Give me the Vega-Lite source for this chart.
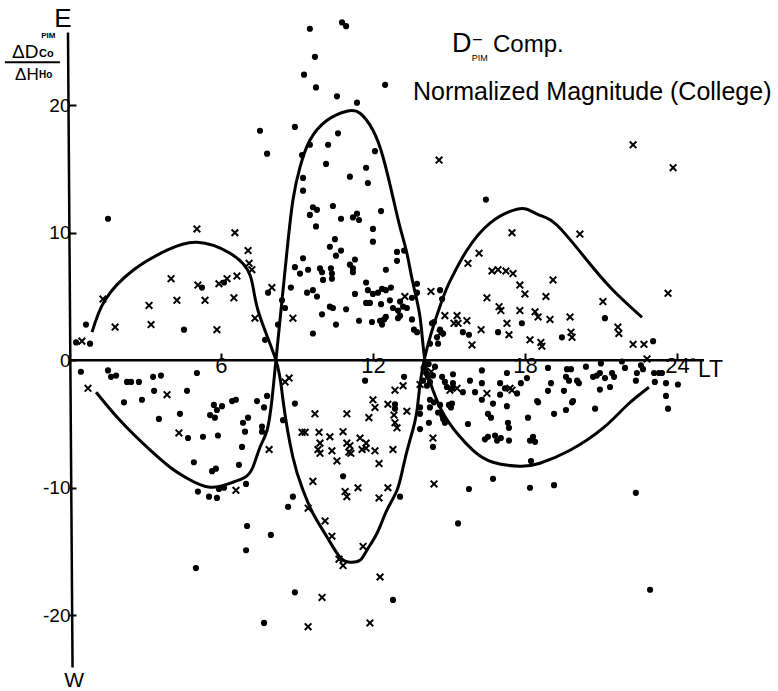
{
  "$schema": "https://vega.github.io/schema/vega-lite/v6.json",
  "width": 635,
  "height": 663,
  "autosize": {"type": "none"},
  "padding": {"left": 69, "top": 16, "right": 74, "bottom": 12},
  "background": "white",
  "data": {"values": [{}]},
  "config": {
    "view": {"stroke": null},
    "axis": {"grid": false, "domain": false, "tickColor": "black", "labelColor": "black", "labelFont": "Liberation Sans", "tickWidth": 2},
    "text": {"font": "Liberation Sans", "color": "black"}
  },
  "layer": [
    {
      "data": {"values": [
        {"h":1.54,"v":11.1},{"h":0.67,"v":2.8},{"h":0.28,"v":1.4},{"h":0.83,"v":1.3},{"h":4.54,"v":2.4},{"h":5.25,"v":5.7},{"h":6.12,"v":6.1},{"h":7.74,"v":1.6},{"h":7.54,"v":18.0},{"h":7.82,"v":16.2},
        {"h":0.47,"v":-0.9},{"h":1.54,"v":-0.8},{"h":1.66,"v":-1.3},{"h":1.86,"v":-1.2},{"h":2.29,"v":-1.7},{"h":2.45,"v":-1.7},{"h":2.76,"v":-1.7},{"h":3.32,"v":-1.3},{"h":3.63,"v":-1.2},{"h":5.05,"v":-1.0},{"h":3.36,"v":-2.4},{"h":4.66,"v":-2.4},{"h":2.17,"v":-3.3},{"h":2.88,"v":-3.1},{"h":3.55,"v":-4.6},{"h":4.38,"v":-4.2},{"h":5.72,"v":-3.5},{"h":5.84,"v":-3.9},{"h":6.04,"v":-3.6},{"h":5.57,"v":-4.3},{"h":5.76,"v":-4.5},{"h":6.44,"v":-3.2},{"h":6.59,"v":-3.1},{"h":7.42,"v":-3.2},{"h":7.70,"v":-3.7},{"h":6.87,"v":-4.9},{"h":7.07,"v":-4.5},{"h":6.95,"v":-5.6},{"h":6.83,"v":-6.8},{"h":7.62,"v":-5.2},{"h":7.62,"v":-5.6},{"h":4.70,"v":-6.1},{"h":5.29,"v":-6.0},{"h":5.88,"v":-5.9},{"h":4.93,"v":-8.0},{"h":5.65,"v":-8.7},{"h":5.80,"v":-8.5},{"h":6.71,"v":-8.2},{"h":5.09,"v":-10.3},{"h":5.53,"v":-10.7},{"h":5.84,"v":-10.8},{"h":5.92,"v":-10.1},{"h":6.12,"v":-10.0},{"h":6.99,"v":-9.7},{"h":7.03,"v":-13.0},{"h":6.99,"v":-14.9},{"h":5.01,"v":-16.3},{"h":7.97,"v":-13.7},{"h":7.70,"v":-20.6},{"h":8.45,"v":-4.7},{"h":8.92,"v":-3.4},{"h":8.65,"v":-11.5},{"h":8.84,"v":-10.7},{"h":8.92,"v":-18.2},{"h":7.82,"v":-2.8},
        {"h":9.51,"v":26.0},{"h":10.78,"v":26.5},{"h":10.94,"v":26.2},{"h":9.71,"v":23.8},{"h":9.28,"v":22.4},{"h":9.75,"v":21.4},{"h":10.58,"v":20.7},{"h":11.37,"v":20.2},{"h":12.48,"v":21.6},{"h":8.92,"v":18.3},{"h":9.20,"v":16.1},{"h":9.51,"v":16.9},{"h":10.23,"v":16.9},{"h":10.62,"v":17.8},{"h":10.15,"v":15.4},{"h":12.08,"v":16.4},{"h":11.73,"v":15.1},{"h":11.09,"v":14.4},{"h":11.80,"v":13.9},{"h":9.24,"v":14.3},{"h":9.24,"v":13.3},{"h":9.63,"v":12.0},{"h":9.79,"v":11.8},{"h":10.42,"v":12.1},{"h":9.51,"v":11.4},{"h":10.74,"v":11.1},{"h":11.21,"v":11.2},{"h":11.37,"v":11.5},{"h":11.45,"v":11.0},{"h":12.32,"v":11.7},{"h":9.75,"v":10.5},{"h":12.0,"v":10.3},{"h":12.0,"v":9.3},{"h":10.50,"v":9.5},{"h":10.30,"v":8.9},{"h":10.74,"v":8.6},{"h":10.54,"v":8.2},{"h":12.95,"v":8.5},{"h":13.23,"v":8.6},{"h":12.95,"v":7.8},{"h":9.24,"v":8.0},{"h":11.29,"v":7.9},{"h":11.09,"v":7.5},{"h":11.21,"v":7.2},{"h":11.21,"v":6.9},{"h":8.92,"v":7.3},{"h":9.12,"v":6.8},{"h":9.44,"v":7.1},{"h":9.91,"v":7.2},{"h":9.99,"v":6.9},{"h":10.34,"v":7.2},{"h":10.38,"v":6.8},{"h":10.38,"v":6.4},{"h":12.51,"v":7.1},{"h":10.03,"v":6.3},{"h":8.76,"v":5.7},{"h":9.40,"v":5.3},{"h":9.63,"v":5.5},{"h":9.79,"v":5.0},{"h":7.86,"v":5.3},{"h":11.73,"v":6.1},{"h":11.80,"v":5.5},{"h":12.0,"v":5.2},{"h":12.20,"v":5.3},{"h":12.36,"v":5.6},{"h":12.51,"v":5.5},{"h":12.71,"v":5.7},{"h":11.29,"v":5.2},{"h":11.73,"v":4.5},{"h":11.88,"v":4.5},{"h":12.32,"v":4.4},{"h":12.67,"v":4.7},{"h":12.79,"v":4.1},{"h":13.74,"v":6.0},{"h":13.74,"v":5.3},{"h":13.07,"v":4.6},{"h":13.19,"v":4.2},{"h":13.34,"v":4.1},{"h":12.99,"v":3.9},{"h":13.54,"v":4.9},{"h":13.07,"v":3.5},{"h":12.99,"v":3.3},{"h":8.53,"v":4.1},{"h":10.30,"v":4.2},{"h":10.42,"v":4.1},{"h":10.94,"v":4.0},{"h":9.99,"v":3.6},{"h":10.54,"v":2.8},{"h":11.45,"v":3.1},{"h":11.96,"v":3.0},{"h":12.28,"v":3.1},{"h":12.36,"v":2.8},{"h":12.44,"v":3.2},{"h":12.51,"v":3.4},{"h":13.54,"v":3.2},{"h":9.63,"v":2.1},{"h":8.25,"v":2.8},{"h":8.41,"v":4.7},{"h":13.62,"v":2.4},{"h":13.74,"v":2.2},{"h":14.33,"v":2.9},{"h":14.41,"v":3.0},{"h":14.65,"v":5.5},{"h":14.73,"v":4.8},{"h":14.65,"v":2.4},{"h":14.77,"v":2.1},{"h":14.53,"v":1.8},{"h":14.57,"v":1.3},{"h":14.25,"v":1.3},{"h":15.55,"v":2.2},{"h":15.79,"v":2.0},{"h":16.46,"v":12.6},{"h":16.94,"v":2.2},{"h":19.46,"v":1.8},{"h":17.88,"v":2.9},{"h":21.16,"v":3.3},{"h":23.06,"v":1.5},
        {"h":11.69,"v":-1.6},{"h":13.23,"v":-1.3},{"h":13.98,"v":-1.6},{"h":14.17,"v":-1.3},{"h":14.37,"v":-1.2},{"h":14.25,"v":-1.7},{"h":14.13,"v":-2.0},{"h":14.73,"v":-1.3},{"h":14.84,"v":-1.7},{"h":14.92,"v":-2.1},{"h":15.12,"v":-2.2},{"h":15.16,"v":-1.8},{"h":15.55,"v":-2.5},{"h":15.83,"v":-1.6},{"h":16.03,"v":-2.5},{"h":16.30,"v":-0.8},{"h":16.30,"v":-1.8},{"h":17.02,"v":-1.8},{"h":17.29,"v":-1.0},{"h":17.21,"v":-2.2},{"h":17.69,"v":-2.6},{"h":14.45,"v":-0.5},{"h":15.16,"v":-1.1},{"h":17.02,"v":-2.7},{"h":16.30,"v":-3.1},{"h":16.74,"v":-3.4},{"h":17.29,"v":-3.6},{"h":16.54,"v":-4.2},{"h":16.66,"v":-4.5},{"h":17.84,"v":-1.8},{"h":18.08,"v":-1.4},{"h":18.48,"v":-3.2},{"h":18.12,"v":-4.5},{"h":17.33,"v":-4.9},{"h":17.37,"v":-5.3},{"h":18.91,"v":-0.6},{"h":19.03,"v":-1.8},{"h":18.91,"v":-2.4},{"h":19.66,"v":-0.7},{"h":19.62,"v":-1.3},{"h":19.74,"v":-1.6},{"h":19.54,"v":-2.4},{"h":19.15,"v":-4.2},{"h":19.62,"v":-3.9},{"h":14.25,"v":-3.1},{"h":14.41,"v":-3.3},{"h":14.25,"v":-3.7},{"h":14.65,"v":-3.5},{"h":15.0,"v":-3.5},{"h":15.12,"v":-3.4},{"h":15.08,"v":-3.7},{"h":14.57,"v":-4.1},{"h":14.73,"v":-4.3},{"h":14.77,"v":-4.6},{"h":14.84,"v":-4.9},{"h":14.21,"v":-4.9},{"h":13.86,"v":-5.4},{"h":14.37,"v":-6.8},{"h":15.75,"v":-5.0},{"h":16.42,"v":-6.2},{"h":16.54,"v":-6.0},{"h":16.82,"v":-5.9},{"h":16.90,"v":-6.3},{"h":17.05,"v":-6.1},{"h":17.37,"v":-6.3},{"h":18.20,"v":-6.3},{"h":18.32,"v":-6.0},{"h":18.40,"v":-6.4},{"h":18.24,"v":-7.9},{"h":12.87,"v":-3.45},{"h":12.87,"v":-3.8},{"h":13.86,"v":-3.7},{"h":13.86,"v":-4.2},{"h":16.74,"v":-9.3},{"h":15.79,"v":-10.1},{"h":15.36,"v":-12.8},{"h":10.82,"v":-9.1},{"h":13.07,"v":-10.7},{"h":12.79,"v":-18.8},{"h":18.52,"v":-3.3},{"h":19.86,"v":-3.3},{"h":20.77,"v":-3.8},{"h":23.65,"v":-3.8},{"h":18.20,"v":-10.0},{"h":19.15,"v":-9.8},{"h":22.38,"v":-10.4},{"h":22.94,"v":-18.0},{"h":14.1,"v":-1.0},{"h":14.0,"v":-0.6},{"h":14.2,"v":-0.3},
        {"h":19.82,"v":-0.7},{"h":20.41,"v":-0.5},{"h":21.0,"v":-0.25},{"h":21.83,"v":-0.1},{"h":21.95,"v":-0.6},{"h":22.58,"v":-0.4},{"h":22.66,"v":-0.7},{"h":22.42,"v":-1.0},{"h":20.06,"v":-1.6},{"h":20.13,"v":-1.8},{"h":20.69,"v":-1.3},{"h":20.84,"v":-1.2},{"h":20.96,"v":-1.0},{"h":21.16,"v":-1.4},{"h":21.44,"v":-1.0},{"h":21.52,"v":-1.3},{"h":22.38,"v":-1.6},{"h":23.10,"v":-1.0},{"h":23.29,"v":-1.0},{"h":23.41,"v":-1.0},{"h":23.13,"v":-1.7},{"h":23.57,"v":-1.8},{"h":24.04,"v":-1.9},{"h":20.96,"v":-2.3},{"h":21.36,"v":-2.1},{"h":19.90,"v":-3.2},{"h":23.57,"v":-2.8}
      ]},
      "mark": {"type": "point", "shape": "circle", "filled": true, "color": "black", "size": 38, "opacity": 1},
      "encoding": {
        "x": {"field": "h", "type": "quantitative", "scale": {"domain": [0, 25.07], "nice": false, "zero": false},
              "axis": {"title": null, "values": [6, 12, 18, 24], "offset": -319, "tickSize": -7, "labelFontSize": 22, "labelPadding": 2, "labelFlush": false}},
        "y": {"field": "v", "type": "quantitative", "scale": {"domain": [-25, 27], "nice": false, "zero": false},
              "axis": {"title": null, "values": [-20, -10, 0, 10, 20], "tickSize": -7, "labelFontSize": 19, "labelPadding": 6, "labelFlush": false, "labelExpr": "replace(datum.label, '−', '-')"}}
      }
    },
    {
      "data": {"values": [
        {"h":0.51,"v":1.5},{"h":1.34,"v":4.8},{"h":1.82,"v":2.6},{"h":3.16,"v":4.3},{"h":3.24,"v":2.8},{"h":4.03,"v":6.4},{"h":4.26,"v":4.7},{"h":5.05,"v":10.3},{"h":5.09,"v":5.9},{"h":5.37,"v":4.7},{"h":5.84,"v":2.4},{"h":5.92,"v":6.0},{"h":6.24,"v":6.4},{"h":6.55,"v":10.0},{"h":6.51,"v":4.9},{"h":6.63,"v":6.6},{"h":7.07,"v":8.6},{"h":7.11,"v":7.6},{"h":7.22,"v":7.1},{"h":7.34,"v":3.3},{"h":0.75,"v":-2.2},{"h":3.87,"v":-2.7},{"h":4.34,"v":-5.7},{"h":7.90,"v":-7.0},{"h":6.59,"v":-10.2},{"h":8.01,"v":5.7},{"h":8.84,"v":3.3},{"h":8.69,"v":-1.4},{"h":8.53,"v":-1.7},
        {"h":14.61,"v":15.7},{"h":13.26,"v":5.0},{"h":14.29,"v":5.4},{"h":14.84,"v":3.5},{"h":15.32,"v":3.5},{"h":15.20,"v":2.9},{"h":15.36,"v":2.9},{"h":15.71,"v":3.1},{"h":15.91,"v":1.2},{"h":16.19,"v":8.4},{"h":15.75,"v":7.6},{"h":16.70,"v":7.0},{"h":16.94,"v":7.1},{"h":17.25,"v":7.0},{"h":17.53,"v":6.8},{"h":16.50,"v":4.9},{"h":16.98,"v":4.2},{"h":17.05,"v":3.9},{"h":17.29,"v":2.9},{"h":17.37,"v":2.0},{"h":16.27,"v":2.4},{"h":17.49,"v":10.0},{"h":14.65,"v":2.1},{"h":18.20,"v":1.6},{"h":18.63,"v":1.4},{"h":18.67,"v":1.1},{"h":12.87,"v":-2.35},{"h":13.19,"v":-2.0},{"h":13.86,"v":-1.9},{"h":15.04,"v":-2.35},{"h":16.50,"v":-2.6},{"h":17.49,"v":-2.35},{"h":15.32,"v":-2.2},{"h":17.41,"v":-2.2},{"h":14.3,"v":-0.9},
        {"h":9.71,"v":-4.2},{"h":10.97,"v":-4.2},{"h":11.84,"v":-4.5},{"h":12.0,"v":-3.1},{"h":12.08,"v":-3.7},{"h":12.59,"v":-3.45},{"h":12.83,"v":-4.3},{"h":12.87,"v":-4.9},{"h":12.95,"v":-5.3},{"h":13.34,"v":-4.0},{"h":9.20,"v":-5.65},{"h":9.32,"v":-5.65},{"h":9.87,"v":-5.65},{"h":10.30,"v":-6.0},{"h":10.82,"v":-5.6},{"h":9.91,"v":-6.5},{"h":9.83,"v":-7.0},{"h":9.91,"v":-7.3},{"h":10.38,"v":-7.1},{"h":10.97,"v":-6.5},{"h":11.09,"v":-6.7},{"h":11.05,"v":-7.2},{"h":11.13,"v":-7.3},{"h":11.49,"v":-6.1},{"h":11.57,"v":-7.0},{"h":11.73,"v":-6.5},{"h":11.73,"v":-6.9},{"h":12.08,"v":-7.1},{"h":12.79,"v":-7.0},{"h":10.58,"v":-7.9},{"h":12.24,"v":-8.1},{"h":9.63,"v":-9.5},{"h":10.90,"v":-10.3},{"h":10.97,"v":-10.7},{"h":11.41,"v":-10.0},{"h":12.24,"v":-10.8},{"h":12.59,"v":-10.0},{"h":9.44,"v":-11.6},{"h":10.11,"v":-12.6},{"h":10.38,"v":-13.8},{"h":11.61,"v":-14.6},{"h":10.66,"v":-15.6},{"h":10.82,"v":-16.1},{"h":12.28,"v":-17.0},{"h":9.99,"v":-18.6},{"h":11.88,"v":-20.6},{"h":9.44,"v":-20.9},{"h":14.37,"v":-6.1},{"h":14.41,"v":-9.7},
        {"h":22.27,"v":16.9},{"h":23.85,"v":15.1},{"h":20.17,"v":9.9},{"h":19.11,"v":6.3},{"h":18.0,"v":5.2},{"h":18.83,"v":5.0},{"h":21.08,"v":4.6},{"h":17.80,"v":5.9},{"h":18.40,"v":3.8},{"h":18.52,"v":3.4},{"h":18.99,"v":3.2},{"h":19.78,"v":3.4},{"h":19.82,"v":2.2},{"h":19.86,"v":1.8},{"h":21.67,"v":2.6},{"h":21.71,"v":2.1},{"h":22.27,"v":1.25},{"h":22.70,"v":1.25},{"h":23.65,"v":5.25},{"h":17.80,"v":3.9},{"h":22.82,"v":0.1}
      ]},
      "mark": {"type": "point", "shape": "M-1,-1L1,1M-1,1L1,-1", "filled": false, "stroke": "black", "strokeWidth": 2, "size": 44, "opacity": 1},
      "encoding": {
        "x": {"field": "h", "type": "quantitative", "axis": {"title": null}},
        "y": {"field": "v", "type": "quantitative", "axis": {"title": null}}
      }
    },
    {
      "data": {"values": [
        {"c":"A","h":0.91,"v":2.2},{"c":"A","h":1.42,"v":4.71},{"c":"A","h":2.53,"v":7.06},{"c":"A","h":3.87,"v":8.63},{"c":"A","h":5.05,"v":9.25},{"c":"A","h":6.36,"v":8.39},{"c":"A","h":7.15,"v":6.67},{"c":"A","h":7.46,"v":3.92},{"c":"A","h":8.17,"v":0},{"c":"A","h":8.45,"v":-3.14},{"c":"A","h":8.84,"v":-7.61},{"c":"A","h":9.24,"v":-10.2},{"c":"A","h":9.63,"v":-12.0},{"c":"A","h":10.19,"v":-13.88},{"c":"A","h":10.70,"v":-15.45},{"c":"A","h":11.09,"v":-15.84},{"c":"A","h":11.49,"v":-15.69},{"c":"A","h":11.76,"v":-14.9},{"c":"A","h":12.16,"v":-13.57},{"c":"A","h":12.55,"v":-11.76},{"c":"A","h":12.95,"v":-10.2},{"c":"A","h":13.19,"v":-8.39},{"c":"A","h":13.46,"v":-6.27},{"c":"A","h":13.74,"v":-3.92},{"c":"A","h":14.02,"v":0},{"c":"A","h":14.73,"v":4.71},{"c":"A","h":15.12,"v":6.51},{"c":"A","h":15.71,"v":8.63},{"c":"A","h":16.62,"v":10.75},{"c":"A","h":17.53,"v":11.76},{"c":"A","h":18.08,"v":11.84},{"c":"A","h":18.59,"v":11.37},{"c":"A","h":19.27,"v":10.59},{"c":"A","h":20.45,"v":7.84},{"c":"A","h":21.48,"v":5.49},{"c":"A","h":22.62,"v":3.37},
        {"c":"B","h":1.07,"v":-2.51},{"c":"B","h":2.01,"v":-4.71},{"c":"B","h":3.08,"v":-6.82},{"c":"B","h":3.99,"v":-8.39},{"c":"B","h":4.66,"v":-9.25},{"c":"B","h":5.57,"v":-9.96},{"c":"B","h":6.47,"v":-9.57},{"c":"B","h":6.95,"v":-9.18},{"c":"B","h":7.26,"v":-8.39},{"c":"B","h":7.54,"v":-6.82},{"c":"B","h":7.82,"v":-5.49},{"c":"B","h":8.01,"v":-3.14},{"c":"B","h":8.17,"v":0},{"c":"B","h":8.41,"v":4.71},{"c":"B","h":8.61,"v":8.63},{"c":"B","h":8.84,"v":12.55},{"c":"B","h":9.12,"v":15.14},{"c":"B","h":9.51,"v":17.25},{"c":"B","h":10.19,"v":18.82},{"c":"B","h":10.97,"v":19.53},{"c":"B","h":11.49,"v":19.37},{"c":"B","h":12.0,"v":18.04},{"c":"B","h":12.40,"v":15.92},{"c":"B","h":12.79,"v":12.78},{"c":"B","h":13.07,"v":10.43},{"c":"B","h":13.34,"v":8.39},{"c":"B","h":13.58,"v":6.04},{"c":"B","h":13.86,"v":3.37},{"c":"B","h":14.05,"v":0},{"c":"B","h":14.37,"v":-2.35},{"c":"B","h":14.77,"v":-4.16},{"c":"B","h":15.32,"v":-5.73},{"c":"B","h":15.95,"v":-7.06},{"c":"B","h":16.74,"v":-8.0},{"c":"B","h":17.80,"v":-8.31},{"c":"B","h":18.59,"v":-8.08},{"c":"B","h":19.78,"v":-7.06},{"c":"B","h":21.08,"v":-5.33},{"c":"B","h":22.03,"v":-3.53},{"c":"B","h":22.90,"v":-2.12}
      ]},
      "mark": {"type": "line", "color": "black", "strokeWidth": 3, "interpolate": "natural"},
      "encoding": {
        "x": {"field": "h", "type": "quantitative", "axis": {"title": null}},
        "y": {"field": "v", "type": "quantitative", "axis": {"title": null}},
        "detail": {"field": "c"}
      }
    },
    {
      "mark": {"type": "rule", "color": "black", "strokeWidth": 2.5},
      "encoding": {
        "x": {"datum": -0.04, "type": "quantitative"},
        "x2": {"datum": 0.14},
        "y": {"datum": 25.7, "type": "quantitative"},
        "y2": {"datum": -24.1}
      }
    },
    {
      "mark": {"type": "rule", "color": "black", "strokeWidth": 2.5},
      "encoding": {
        "x": {"datum": 0, "type": "quantitative"},
        "x2": {"datum": 25.07},
        "y": {"datum": 0, "type": "quantitative"}
      }
    },
    {
      "mark": {"type": "rule", "color": "black", "strokeWidth": 2},
      "encoding": {
        "x": {"datum": -2.53, "type": "quantitative"},
        "x2": {"datum": -0.36},
        "y": {"datum": 23.37, "type": "quantitative"}
      }
    },
    {"mark": {"type": "text", "text": "E", "align": "center", "baseline": "alphabetic", "fontSize": 26},
     "encoding": {"x": {"datum": -0.24, "type": "quantitative"}, "y": {"datum": 26.12, "type": "quantitative"}}},
    {"mark": {"type": "text", "text": "W", "align": "center", "baseline": "alphabetic", "fontSize": 21},
     "encoding": {"x": {"datum": 0.2, "type": "quantitative"}, "y": {"datum": -25.65, "type": "quantitative"}}},
    {"mark": {"type": "text", "text": "ΔD", "align": "left", "baseline": "alphabetic", "fontSize": 19},
     "encoding": {"x": {"datum": -2.25, "type": "quantitative"}, "y": {"datum": 23.69, "type": "quantitative"}}},
    {"mark": {"type": "text", "text": "Co", "align": "left", "baseline": "alphabetic", "fontSize": 11, "fontWeight": "bold"},
     "encoding": {"x": {"datum": -1.18, "type": "quantitative"}, "y": {"datum": 23.76, "type": "quantitative"}}},
    {"mark": {"type": "text", "text": "PIM", "align": "left", "baseline": "alphabetic", "fontSize": 8, "fontWeight": "bold"},
     "encoding": {"x": {"datum": -1.1, "type": "quantitative"}, "y": {"datum": 25.3, "type": "quantitative"}}},
    {"mark": {"type": "text", "text": "ΔH", "align": "left", "baseline": "alphabetic", "fontSize": 17},
     "encoding": {"x": {"datum": -2.13, "type": "quantitative"}, "y": {"datum": 21.96, "type": "quantitative"}}},
    {"mark": {"type": "text", "text": "Ho", "align": "left", "baseline": "alphabetic", "fontSize": 10, "fontWeight": "bold"},
     "encoding": {"x": {"datum": -1.18, "type": "quantitative"}, "y": {"datum": 22.12, "type": "quantitative"}}},
    {"mark": {"type": "text", "text": "D", "align": "left", "baseline": "alphabetic", "fontSize": 27},
     "encoding": {"x": {"datum": 15.12, "type": "quantitative"}, "y": {"datum": 24.16, "type": "quantitative"}}},
    {"mark": {"type": "text", "text": "–", "align": "left", "baseline": "middle", "fontSize": 16},
     "encoding": {"x": {"datum": 15.95, "type": "quantitative"}, "y": {"datum": 25.18, "type": "quantitative"}}},
    {"mark": {"type": "text", "text": "PIM", "align": "left", "baseline": "alphabetic", "fontSize": 9},
     "encoding": {"x": {"datum": 15.9, "type": "quantitative"}, "y": {"datum": 23.45, "type": "quantitative"}}},
    {"mark": {"type": "text", "text": "Comp.", "align": "left", "baseline": "alphabetic", "fontSize": 24},
     "encoding": {"x": {"datum": 16.74, "type": "quantitative"}, "y": {"datum": 24.16, "type": "quantitative"}}},
    {"mark": {"type": "text", "text": "Normalized Magnitude (College)", "align": "left", "baseline": "alphabetic", "fontSize": 25},
     "encoding": {"x": {"datum": 13.58, "type": "quantitative"}, "y": {"datum": 20.39, "type": "quantitative"}}},
    {"mark": {"type": "text", "text": "LT", "align": "left", "baseline": "alphabetic", "fontSize": 23},
     "encoding": {"x": {"datum": 24.83, "type": "quantitative"}, "y": {"datum": -1.33, "type": "quantitative"}}},
    {"mark": {"type": "text", "text": "″", "align": "center", "baseline": "middle", "fontSize": 12},
     "encoding": {"x": {"datum": 24.62, "type": "quantitative"}, "y": {"datum": -0.2, "type": "quantitative"}}}
  ]
}
